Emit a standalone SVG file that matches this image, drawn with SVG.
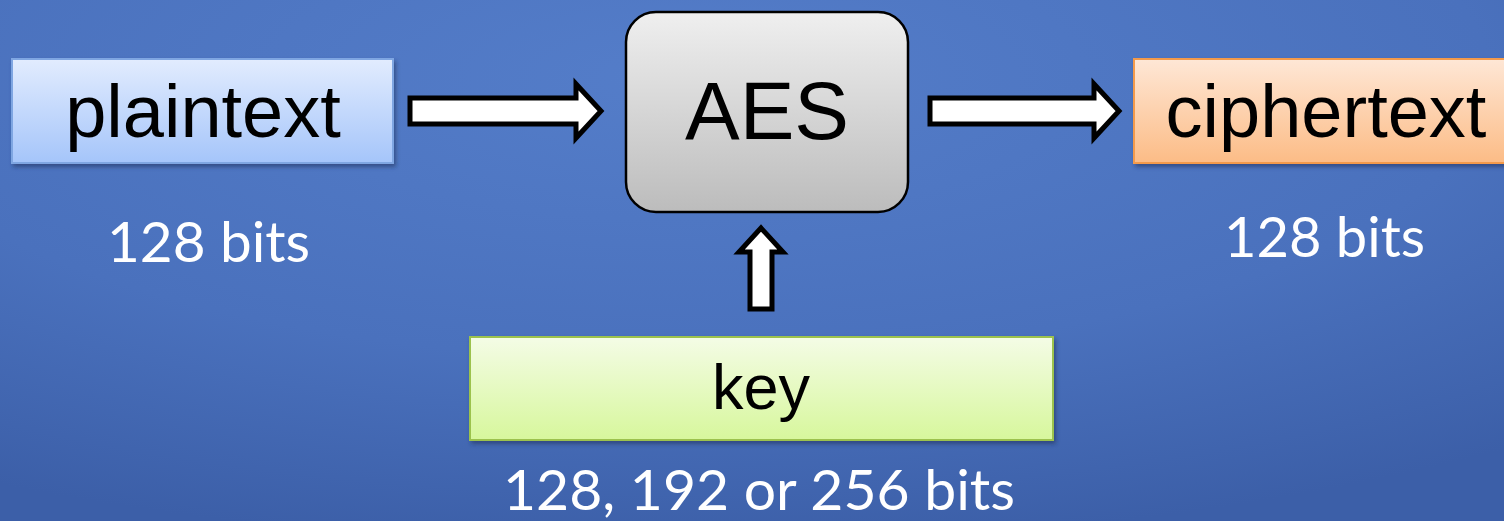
<svg xmlns="http://www.w3.org/2000/svg" width="1504" height="521" viewBox="0 0 1504 521">
  <defs>
    <radialGradient id="bg" cx="0.45" cy="0.15" r="0.9">
      <stop offset="0" stop-color="#547dc9"/>
      <stop offset="0.6" stop-color="#4a71bd"/>
      <stop offset="1" stop-color="#3c5fa8"/>
    </radialGradient>
    <linearGradient id="gBlue" x1="0" y1="0" x2="0" y2="1">
      <stop offset="0" stop-color="#e2ecfe"/>
      <stop offset="1" stop-color="#a5c5fa"/>
    </linearGradient>
    <linearGradient id="gOrange" x1="0" y1="0" x2="0" y2="1">
      <stop offset="0" stop-color="#fee7d6"/>
      <stop offset="1" stop-color="#fcbc86"/>
    </linearGradient>
    <linearGradient id="gGreen" x1="0" y1="0" x2="0" y2="1">
      <stop offset="0" stop-color="#f4fce6"/>
      <stop offset="1" stop-color="#d7f79c"/>
    </linearGradient>
    <linearGradient id="gGrey" x1="0" y1="0" x2="0" y2="1">
      <stop offset="0" stop-color="#efefef"/>
      <stop offset="1" stop-color="#bcbcbc"/>
    </linearGradient>
    <filter id="shadow" x="-5%" y="-10%" width="115%" height="130%">
      <feDropShadow dx="2" dy="3" stdDeviation="2" flood-color="#1b2d55" flood-opacity="0.55"/>
    </filter>
  </defs>
  <style>
    .boxText { font-family: "Liberation Sans", Arial, sans-serif; fill: #000; text-anchor: middle; }
    .label { font-family: Lato, "Open Sans", sans-serif; fill: #fff; }
    .arrow { fill: #fff; stroke: #000; stroke-width: 5; stroke-linejoin: miter; }
  </style>

  <rect x="0" y="0" width="1504" height="521" fill="url(#bg)"/>

  <g id="plaintext">
    <rect x="12" y="59" width="381" height="104" fill="url(#gBlue)" stroke="#7fa6e2" stroke-width="2" filter="url(#shadow)"/>
    <text class="boxText" x="203" y="137" font-size="74">plaintext</text>
    <text class="label" x="107" y="262" font-size="56" textLength="203" lengthAdjust="spacingAndGlyphs">128 bits</text>
  </g>

  <g id="aes">
    <rect x="626" y="12" width="282" height="200" rx="30" ry="30" fill="url(#gGrey)" stroke="#000" stroke-width="2.5"/>
    <text class="boxText" x="767" y="139" font-size="82">AES</text>
  </g>

  <g id="ciphertext">
    <rect x="1134" y="59" width="380" height="104" fill="url(#gOrange)" stroke="#f39a4c" stroke-width="2" filter="url(#shadow)"/>
    <text class="boxText" x="1326" y="137" font-size="74">ciphertext</text>
    <text class="label" x="1224" y="257" font-size="56" textLength="201" lengthAdjust="spacingAndGlyphs">128 bits</text>
  </g>

  <g id="key">
    <rect x="470" y="337" width="583" height="103" fill="url(#gGreen)" stroke="#9cc24e" stroke-width="2" filter="url(#shadow)"/>
    <text class="boxText" x="761" y="409" font-size="63">key</text>
    <text class="label" x="503" y="510" font-size="56" textLength="512" lengthAdjust="spacingAndGlyphs">128, 192 or 256 bits</text>
  </g>

  <g id="connectors">
    <!-- plaintext to AES -->
    <path class="arrow" d="M410,98 H576 V84 L601,111 L576,138 V124 H410 Z"/>
    <!-- AES to ciphertext -->
    <path class="arrow" d="M930,98 H1094 V84 L1119,111 L1094,138 V124 H930 Z"/>
    <!-- key up into AES -->
    <path class="arrow" d="M750,309 V252 H739 L761,228 L783,252 H772 V309 Z"/>
  </g>
</svg>
